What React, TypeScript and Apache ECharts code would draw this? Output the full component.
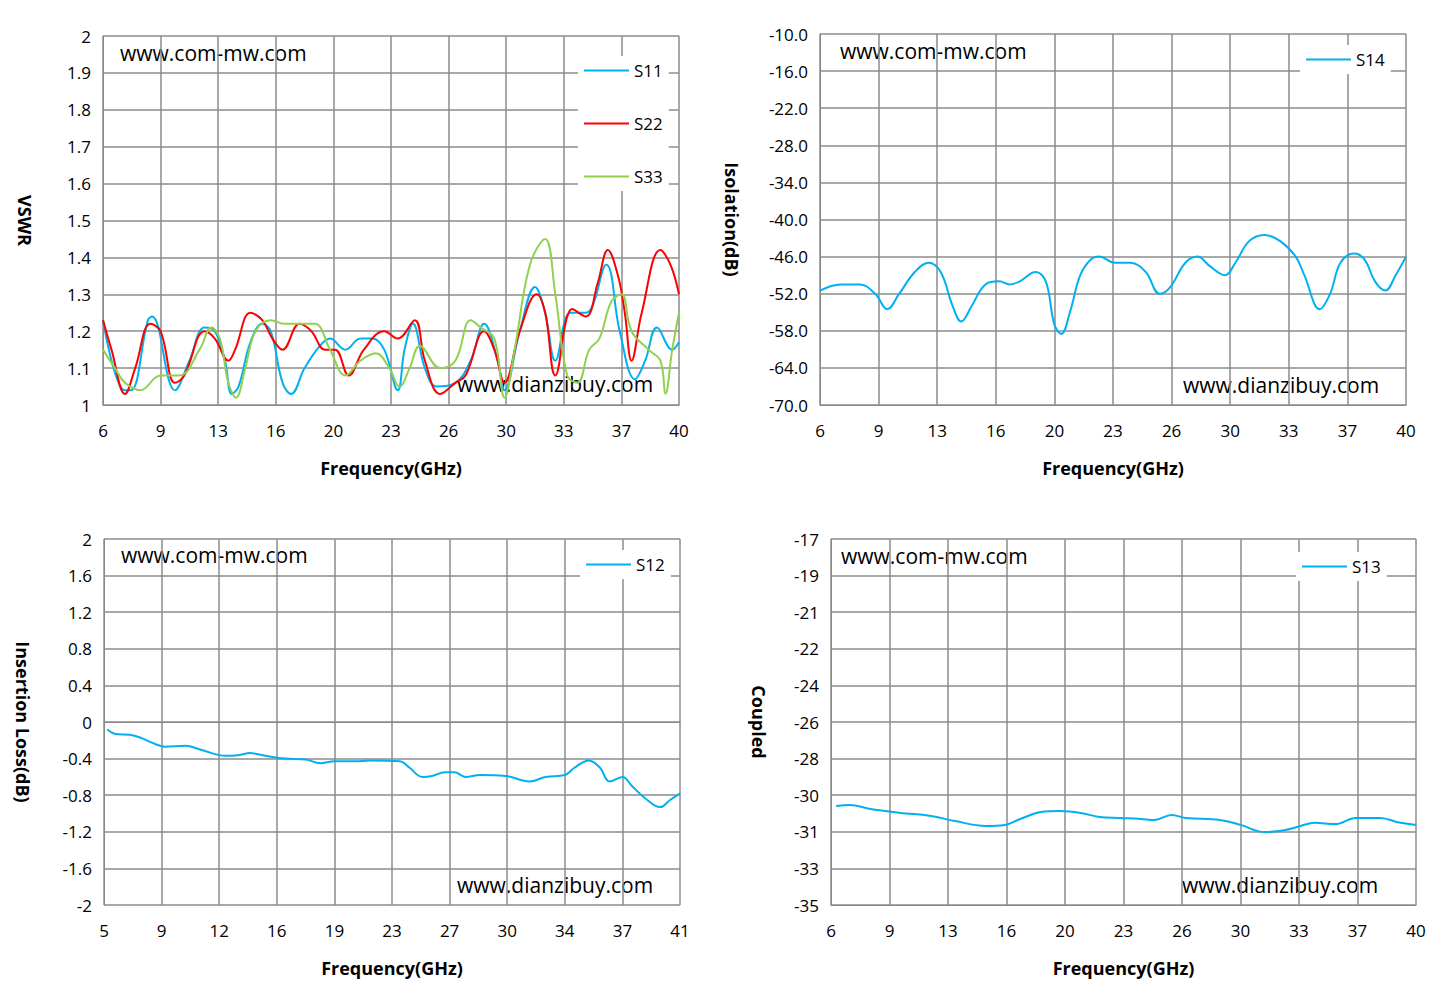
import React, { useEffect, useRef } from "react";
import * as echarts from "echarts";

const s11: number[][] = [[6,1.23],[7.3,1.04],[7.65,1.04],[8.65,1.23],[8.9,1.24],[10.25,1.04],[11.1,1.12],[12.0,1.21],[12.6,1.2],[13.2,1.12],[13.6,1.03],[14.0,1.05],[14.7,1.17],[15.4,1.22],[15.9,1.2],[16.6,1.06],[17.1,1.03],[17.9,1.1],[18.8,1.16],[19.4,1.18],[20.3,1.15],[21.2,1.18],[21.9,1.18],[22.6,1.15],[23.4,1.04],[23.8,1.15],[24.3,1.22],[25.0,1.1],[25.7,1.05],[26.8,1.06],[27.7,1.12],[28.5,1.22],[29.3,1.12],[29.7,1.04],[30.6,1.2],[31.5,1.32],[32.1,1.25],[32.7,1.12],[33.6,1.25],[34.5,1.25],[35.7,1.38],[36.5,1.2],[37.4,1.07],[38.0,1.12],[38.7,1.21],[39.6,1.15],[40,1.17]];
const s22: number[][] = [[6,1.23],[6.5,1.15],[7.3,1.03],[7.9,1.1],[8.8,1.22],[9.4,1.2],[10.25,1.06],[10.8,1.08],[12.0,1.2],[12.6,1.18],[13.4,1.12],[13.8,1.15],[14.7,1.25],[15.4,1.23],[16.0,1.18],[16.6,1.15],[17.6,1.22],[18.3,1.2],[19.1,1.15],[19.7,1.15],[20.5,1.08],[21.4,1.15],[22.6,1.2],[23.4,1.18],[24.4,1.23],[25.0,1.12],[25.9,1.03],[26.8,1.06],[27.4,1.08],[28.5,1.2],[29.1,1.15],[29.7,1.06],[30.6,1.2],[31.6,1.3],[32.1,1.25],[32.7,1.08],[33.7,1.26],[34.5,1.24],[35.2,1.33],[35.8,1.42],[36.4,1.35],[36.8,1.25],[37.2,1.12],[37.8,1.25],[38.9,1.42],[39.5,1.38],[40,1.3]];
const s33: number[][] = [[6,1.15],[6.7,1.1],[7.3,1.06],[8.2,1.04],[9.4,1.08],[10.5,1.08],[11.7,1.15],[12.4,1.21],[12.9,1.18],[13.4,1.06],[13.85,1.02],[14.4,1.1],[15.0,1.2],[15.9,1.23],[16.7,1.22],[17.6,1.22],[18.5,1.22],[19.4,1.15],[20.3,1.08],[21.2,1.12],[22.1,1.14],[22.9,1.1],[23.5,1.05],[24.1,1.1],[24.7,1.16],[25.9,1.1],[26.8,1.12],[27.7,1.23],[28.3,1.21],[29.1,1.18],[29.7,1.02],[30.3,1.15],[31.2,1.38],[32.1,1.45],[32.7,1.3],[33.4,1.08],[34.0,1.06],[34.7,1.15],[35.3,1.18],[36.0,1.28],[36.6,1.3],[37.2,1.2],[38.2,1.15],[38.9,1.12],[39.2,1.03],[39.6,1.15],[40,1.25]];
const s14: number[][] = [[6,-51.5],[7.2,-50.5],[8.3,-50.5],[9.2,-52],[9.9,-54.5],[10.6,-52],[11.5,-48.5],[12.3,-47],[13.0,-48.5],[13.7,-54],[14.2,-56.5],[14.8,-54],[15.6,-50.5],[16.4,-50],[17.0,-50.5],[17.6,-50],[18.5,-48.5],[19.1,-50],[19.6,-57],[20.0,-58.5],[20.5,-55],[21.1,-49],[21.7,-46.5],[22.2,-46],[23.1,-47],[24.0,-47],[24.9,-48.5],[25.7,-52],[26.3,-51],[27.2,-47],[27.9,-46],[28.6,-47.5],[29.5,-49],[30.1,-47],[30.9,-43.5],[31.8,-42.5],[32.7,-43.5],[33.6,-46],[34.1,-49],[35.0,-54.5],[35.6,-52],[36.2,-47],[37.0,-45.5],[37.6,-46.5],[38.2,-50],[38.8,-51.5],[39.4,-49],[40,-46]];
const s12: number[][] = [[5.2,-0.08],[5.7,-0.13],[6.6,-0.14],[7.25,-0.17],[8.2,-0.24],[8.8,-0.27],[10.1,-0.26],[11,-0.3],[12.6,-0.37],[13.5,-0.36],[14.1,-0.34],[15.1,-0.37],[16.3,-0.4],[17.6,-0.41],[18.5,-0.45],[19.4,-0.43],[20.7,-0.43],[21.6,-0.42],[23.5,-0.43],[24.1,-0.5],[24.9,-0.6],[25.5,-0.59],[26.3,-0.55],[26.9,-0.55],[27.6,-0.6],[28.5,-0.58],[30.1,-0.59],[31.6,-0.65],[32.6,-0.6],[33.8,-0.58],[34.4,-0.5],[35.3,-0.42],[36,-0.5],[36.6,-0.65],[37.4,-0.6],[38,-0.7],[38.8,-0.83],[39.75,-0.93],[40.4,-0.85],[41,-0.78]];
const s13: number[][] = [[6.3,-30.13],[7.1,-30.08],[8.3,-30.28],[10.0,-30.47],[11.8,-30.62],[13.2,-30.87],[15.0,-31.11],[16.1,-31.06],[17.0,-30.77],[18.2,-30.43],[19.3,-30.38],[20.5,-30.47],[21.6,-30.67],[22.8,-30.72],[24.0,-30.77],[24.8,-30.82],[25.8,-30.57],[26.6,-30.72],[28.6,-30.82],[29.8,-31.06],[31.2,-31.41],[32.4,-31.31],[33.3,-31.11],[34.1,-30.96],[35.3,-31.02],[36.5,-30.72],[37.9,-30.72],[39.1,-30.96],[40,-31.06]];

const BLUE = "#00b0f0", RED = "#ff0000", GREEN = "#92d050";
const FONT = "Open Sans";
const grids = [
  { left: 103, top: 36, width: 576, height: 369 },
  { left: 820, top: 34, width: 586, height: 371 },
  { left: 104, top: 539, width: 576, height: 366 },
  { left: 831, top: 539, width: 585, height: 366 },
];
const xRanges = [[6, 40, 3.4], [6, 40, 3.4], [5, 41, 3.6], [6, 40, 3.4]];
const yCfg = [
  { min: 1, max: 2, interval: 0.1, name: "VSWR", gap: 69, fmt: (v: number) => String(Math.round(v * 10) / 10) },
  { min: -70, max: -10, interval: 6, name: "Isolation(dB)", gap: 79, fmt: (v: number) => v.toFixed(1) },
  { min: -2, max: 2, interval: 0.4, name: "Insertion Loss(dB)", gap: 72, fmt: (v: number) => String(Math.round(v * 10) / 10) },
  { min: -35, max: -17, interval: 1.8, name: "Coupled", gap: 63, fmt: (v: number) => String(Math.round(v)) },
];

export default function App() {
  const ref = useRef<HTMLDivElement>(null);
  useEffect(() => {
    const chart = echarts.init(ref.current!, null, { renderer: "svg" });
    const axisLine = { show: true, lineStyle: { color: "#888" } };
    const split = { show: true, lineStyle: { color: "#8c8c8c", width: 1.5 } };
    const lbl = { color: "#000", fontSize: 17, fontFamily: FONT };
    const mk = (name: string, data: number[][], color: string, i: number) => ({
      name, type: "line", xAxisIndex: i, yAxisIndex: i, data, smooth: 0.4, showSymbol: false,
      lineStyle: { color, width: 2 }, itemStyle: { color },
    });
    const legendBase = {
      orient: "vertical", icon: "rect", itemWidth: 45, itemHeight: 2, backgroundColor: "#fff",
      textStyle: { fontSize: 17, fontFamily: FONT, color: "#000" }, padding: [6, 6, 6, 6],
    };
    const wm = (x: number, y: number, t: string) => ({ type: "text", left: x, top: y, style: { text: t, fontSize: 21, fontFamily: FONT, fill: "#000" } });
    chart.setOption({
      animation: false,
      backgroundColor: "#fff",
      grid: grids,
      xAxis: grids.map((_, i) => ({
        type: "value", gridIndex: i, min: xRanges[i][0], max: xRanges[i][1], interval: xRanges[i][2],
        axisLine, axisTick: { show: false }, splitLine: split,
        axisLabel: { ...lbl, margin: 17, formatter: (v: number) => String(Math.round(v)) },
        name: "Frequency(GHz)", nameLocation: "middle", nameGap: 54,
        nameTextStyle: { fontSize: 18, fontWeight: "bold", fontFamily: FONT, color: "#000" },
      })),
      yAxis: yCfg.map((c, i) => ({
        type: "value", gridIndex: i, min: c.min, max: c.max, interval: c.interval,
        axisLine, axisTick: { show: false }, splitLine: split,
        axisLabel: { ...lbl, margin: 12, formatter: c.fmt },
        name: c.name, nameLocation: "middle", nameGap: c.gap, nameRotate: -90,
        nameTextStyle: { fontSize: 18, fontWeight: "bold", fontFamily: FONT, color: "#000" },
      })),
      legend: [
        { ...legendBase, data: ["S11", "S22", "S33"], left: 578, top: 56, itemGap: 36 },
        { ...legendBase, data: ["S14"], left: 1300, top: 45 },
        { ...legendBase, data: ["S12"], left: 580, top: 550 },
        { ...legendBase, data: ["S13"], left: 1296, top: 552 },
      ],
      series: [
        mk("S11", s11, BLUE, 0), mk("S22", s22, RED, 0), mk("S33", s33, GREEN, 0),
        mk("S14", s14, BLUE, 1), mk("S12", s12, BLUE, 2), mk("S13", s13, BLUE, 3),
      ],
      graphic: [
        wm(120, 42, "www.com-mw.com"), wm(457, 373, "www.dianzibuy.com"),
        wm(840, 40, "www.com-mw.com"), wm(1183, 374, "www.dianzibuy.com"),
        wm(121, 544, "www.com-mw.com"), wm(457, 874, "www.dianzibuy.com"),
        wm(841, 545, "www.com-mw.com"), wm(1182, 874, "www.dianzibuy.com"),
      ],
    });
    return () => chart.dispose();
  }, []);
  return <div ref={ref} style={{ position: "fixed", left: 0, top: 0, width: 1445, height: 1004 }} />;
}
